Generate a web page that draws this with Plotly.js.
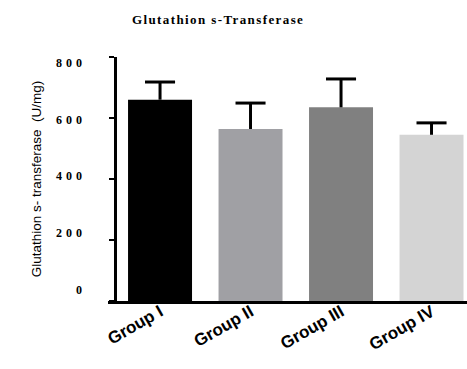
<!DOCTYPE html>
<html>
<head>
<meta charset="utf-8">
<script src="https://cdn.plot.ly/plotly-3.0.1.min.js"></script>
<style>
  html, body { margin: 0; padding: 0; background: #ffffff; }
  #chart { width: 467px; height: 369px; }
  .gtitle { letter-spacing: 1.4px; }
  .y2tick text { letter-spacing: 4px; }
</style>
</head>
<body>
<div id="chart"></div>
<script>
// Glutathione S-transferase activity per group (mean and SEM, U/mg)
const groups = ['Group I', 'Group II', 'Group III', 'Group IV'];
const gstActivity = [660, 564, 635, 545];
const gstSem = [58, 85, 93, 39];
const barColors = ['#000000', '#a0a0a4', '#808080', '#d4d4d4'];
const yTicks = [0, 200, 400, 600, 800];
const yTickText = ['0', '200', '400', '600', '800'];

const positions = groups.map((g, i) => i);

// Upper-only whiskers: stem from bar top to mean + SEM, plus a cap
const capHalf = 0.166;
const whiskerX = [];
const whiskerY = [];
positions.forEach((p, i) => {
  const top = gstActivity[i] + gstSem[i];
  whiskerX.push(p, p, null, p - capHalf, p + capHalf, null);
  whiskerY.push(gstActivity[i], top, null, top, top, null);
});

const bars = {
  type: 'bar',
  x: positions,
  y: gstActivity,
  width: 0.707,
  marker: { color: barColors, line: { width: 0 } },
  hoverinfo: 'skip',
  showlegend: false
};

const whiskers = {
  type: 'scatter',
  mode: 'lines',
  x: whiskerX,
  y: whiskerY,
  line: { color: '#000000', width: 3 },
  connectgaps: false,
  hoverinfo: 'skip',
  showlegend: false
};

// Transparent points on the label axis so that axis gets drawn
const labelAxisAnchor = {
  type: 'scatter',
  mode: 'markers',
  x: positions,
  y: gstActivity,
  yaxis: 'y2',
  marker: { opacity: 0, size: 1 },
  hoverinfo: 'skip',
  showlegend: false
};

const axisPos = 0.0195;

const layout = {
  width: 467,
  height: 369,
  paper_bgcolor: '#ffffff',
  plot_bgcolor: '#ffffff',
  margin: { l: 108, r: 0, t: 57, b: 68 },
  showlegend: false,
  hovermode: false,
  title: {
    text: 'Glutathion s-Transferase',
    font: { family: 'Liberation Serif, Times New Roman, serif', size: 13, weight: 700, color: '#000000' },
    x: 0.467, xanchor: 'center',
    y: 0.946, yanchor: 'middle'
  },
  xaxis: {
    range: [-0.575, 3.392],
    tickvals: positions,
    ticktext: groups,
    tickangle: -30,
    ticks: '',
    ticklabelstandoff: -8,
    showline: true,
    linecolor: '#000000',
    linewidth: 2.5,
    showgrid: false,
    zeroline: false,
    tickfont: { family: 'Liberation Sans, Arial, sans-serif', size: 17, weight: 700, color: '#000000' }
  },
  yaxis: {
    range: [0, 800],
    anchor: 'free',
    position: axisPos,
    showline: true,
    linecolor: '#000000',
    linewidth: 2.5,
    ticks: 'outside',
    ticklen: 5,
    tickwidth: 2.5,
    tickcolor: '#000000',
    tickvals: yTicks,
    showticklabels: false,
    showgrid: false,
    zeroline: false
  },
  yaxis2: {
    overlaying: 'y',
    anchor: 'free',
    position: axisPos,
    side: 'left',
    range: [-40, 820],
    tickvals: yTicks,
    ticktext: yTickText,
    ticks: '',
    ticklabelstandoff: 29,
    showline: false,
    showgrid: false,
    zeroline: false,
    tickfont: { family: 'Liberation Serif, Times New Roman, serif', size: 12, weight: 700, color: '#000000' },
    title: {
      text: 'Glutathion s- transferase  (U/mg)',
      font: { family: 'Liberation Sans, Arial, sans-serif', size: 13.5, color: '#000000' },
      standoff: 10
    }
  }
};

Plotly.newPlot('chart', [bars, whiskers, labelAxisAnchor], layout, { displayModeBar: false, staticPlot: true });
</script>
</body>
</html>
